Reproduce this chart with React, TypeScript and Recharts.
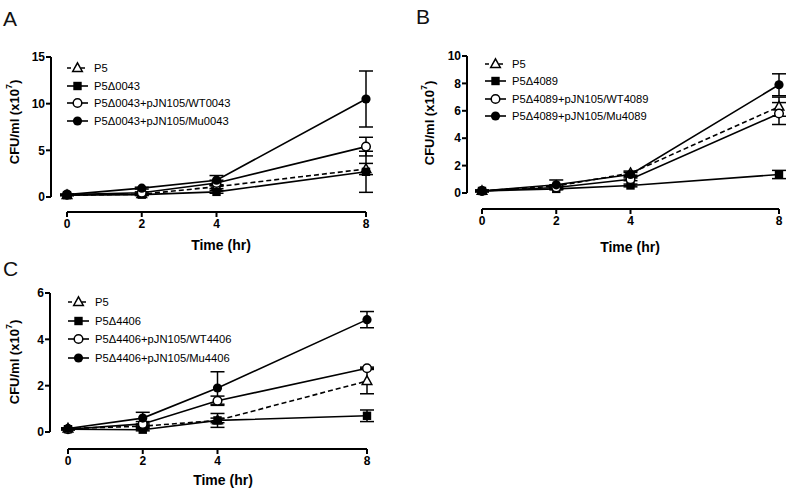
import React from 'react';
import { LineChart, Line, XAxis, YAxis, ErrorBar, ReferenceLine, Legend, Label } from 'recharts';

const FONT = '"Liberation Sans", Arial, sans-serif';

// ---------- data ----------
const times = [0, 2, 4, 8];
const timeTicks = [0, 2, 4, 8];

// Panel A
const namesA = ['P5', 'P5\u03940043', 'P5\u03940043+pJN105/WT0043', 'P5\u03940043+pJN105/Mu0043'];
const aP5 = [0.2, 0.3, 1.1, 3.0];
const aP5Err = [0.05, 0.1, 0.2, 0.6];
const aDel = [0.2, 0.25, 0.55, 2.7];
const aDelErr = [0.05, 0.1, 0.15, 2.2];
const aWT = [0.25, 0.45, 1.5, 5.4];
const aWTErr = [0.05, 0.1, 0.3, 1.0];
const aMu = [0.25, 0.95, 1.8, 10.5];
const aMuErr = [0.05, 0.1, 0.5, 3.0];
const aTicks = [0, 5, 10, 15];

// Panel B
const namesB = ['P5', 'P5\u03944089', 'P5\u03944089+pJN105/WT4089', 'P5\u03944089+pJN105/Mu4089'];
const bP5 = [0.15, 0.5, 1.45, 6.3];
const bP5Err = [0.05, 0.1, 0.15, 0.7];
const bDel = [0.15, 0.3, 0.55, 1.35];
const bDelErr = [0.05, 0.05, 0.1, 0.3];
const bWT = [0.15, 0.4, 1.0, 5.8];
const bWTErr = [0.05, 0.1, 0.1, 0.8];
const bMu = [0.15, 0.6, 1.35, 7.9];
const bMuErr = [0.05, 0.35, 0.15, 0.8];
const bTicks = [0, 2, 4, 6, 8, 10];

// Panel C
const namesC = ['P5', 'P5\u03944406', 'P5\u03944406+pJN105/WT4406', 'P5\u03944406+pJN105/Mu4406'];
const cP5 = [0.15, 0.25, 0.5, 2.2];
const cP5Err = [0.03, 0.05, 0.1, 0.55];
const cDel = [0.12, 0.1, 0.5, 0.7];
const cDelErr = [0.03, 0.05, 0.3, 0.25];
const cWT = [0.12, 0.35, 1.35, 2.75];
const cWTErr = [0.03, 0.1, 0.2, 0.05];
const cMu = [0.15, 0.6, 1.9, 4.85];
const cMuErr = [0.03, 0.25, 0.7, 0.35];
const cTicks = [0, 2, 4, 6];

const kinds = ['tri', 'sq', 'oc', 'fc'];

function buildRows(series: number[][], errs: number[][]) {
  return times.map((t, i) => {
    const row: any = { t };
    series.forEach((s, k) => {
      row['s' + k] = s[i];
      row['e' + k] = errs[k][i];
    });
    return row;
  });
}

function Marker({ cx, cy, kind }: { cx: number; cy: number; kind: string }) {
  if (cx == null || cy == null) return null;
  if (kind === 'tri')
    return (
      <path
        d={`M${cx},${cy - 5.2} L${cx + 4.8},${cy + 3.4} L${cx - 4.8},${cy + 3.4} Z`}
        fill="#fff"
        stroke="#000"
        strokeWidth={1.5}
      />
    );
  if (kind === 'sq') return <rect x={cx - 4.2} y={cy - 4.2} width={8.4} height={8.4} fill="#000" />;
  if (kind === 'oc') return <circle cx={cx} cy={cy} r={4.3} fill="#fff" stroke="#000" strokeWidth={1.5} />;
  return <circle cx={cx} cy={cy} r={4.6} fill="#000" />;
}

type PanelCfg = {
  left: number;
  top: number;
  w: number;
  h: number;
  yAxisX: number;
  x0: number;
  x8: number;
  y0: number;
  yTop: number;
  xAxisY: number;
  ymax: number;
  yTicks: number[];
  legX: number;
  legY: number;
  legSp: number;
  ylabX: number;
  ylabY: number;
  xlabX: number;
  xlabY: number;
  letter: string;
  letterX: number;
  letterY: number;
  names: string[];
  rows: any[];
};

const xAxisH = 36;

function Panel({ c }: { c: PanelCfg }) {
  const xmin = (-8 * (c.x0 - c.yAxisX)) / (c.x8 - c.x0);
  const ymin = (-c.ymax * (c.xAxisY - c.y0)) / (c.y0 - c.yTop);
  const margin = { top: c.yTop, right: c.w - c.x8, left: 0, bottom: c.h - c.xAxisY - xAxisH };
  const renderLegend = () => (
    <div style={{ fontFamily: FONT, fontSize: 11.2, color: '#000' }}>
      {c.names.map((n, i) => (
        <div key={i} style={{ height: c.legSp, display: 'flex', alignItems: 'center', whiteSpace: 'nowrap' }}>
          <svg width={21} height={12} style={{ overflow: 'visible' }}>
            <line
              x1={0}
              y1={6}
              x2={21}
              y2={6}
              stroke="#000"
              strokeWidth={1.6}
              strokeDasharray={i === 0 ? '4 3' : undefined}
            />
            <Marker cx={10.5} cy={6} kind={kinds[i]} />
          </svg>
          <span style={{ marginLeft: 6 }}>{n}</span>
        </div>
      ))}
    </div>
  );
  return (
    <div style={{ position: 'absolute', left: c.left, top: c.top, width: c.w, height: c.h }}>
      <div
        style={{
          position: 'absolute',
          left: c.letterX,
          top: c.letterY,
          fontFamily: FONT,
          fontSize: 21,
          lineHeight: 1,
          color: '#111',
        }}
      >
        {c.letter}
      </div>
      <LineChart width={c.w} height={c.h} data={c.rows} margin={margin}>
        <XAxis
          dataKey="t"
          type="number"
          domain={[xmin, 8]}
          ticks={timeTicks}
          axisLine={false}
          tickLine={{ stroke: '#000', strokeWidth: 2 }}
          tickSize={5}
          tickMargin={2}
          height={xAxisH}
          tick={{ fill: '#000', fontSize: 12, fontWeight: 'bold', fontFamily: FONT }}
        >
          <Label
            content={() => (
              <text
                x={c.xlabX}
                y={c.xlabY}
                textAnchor="middle"
                dominantBaseline="central"
                fontFamily={FONT}
                fontSize={14}
                fontWeight="bold"
                fill="#000"
              >
                Time (hr)
              </text>
            )}
          />
        </XAxis>
        <YAxis
          type="number"
          domain={[ymin, c.ymax]}
          ticks={c.yTicks}
          axisLine={false}
          tickLine={{ stroke: '#000', strokeWidth: 2 }}
          tickSize={5}
          tickMargin={1}
          width={c.yAxisX}
          tick={{ fill: '#000', fontSize: 12, fontWeight: 'bold', fontFamily: FONT }}
        >
          <Label
            content={() => (
              <text
                transform={`translate(${c.ylabX},${c.ylabY}) rotate(-90)`}
                textAnchor="middle"
                dominantBaseline="central"
                fontFamily={FONT}
                fontSize={13}
                fontWeight="bold"
                fill="#000"
              >
                CFU/ml (x10
                <tspan dy={-5} fontSize={9}>
                  7
                </tspan>
                <tspan dy={5}>)</tspan>
              </text>
            )}
          />
        </YAxis>
        <ReferenceLine
          segment={[
            { x: xmin, y: 0 },
            { x: xmin, y: c.ymax },
          ]}
          stroke="#000"
          strokeWidth={2}
          ifOverflow="visible"
        />
        <ReferenceLine
          segment={[
            { x: 0, y: ymin },
            { x: 8, y: ymin },
          ]}
          stroke="#000"
          strokeWidth={2}
          ifOverflow="visible"
        />
        <Legend
          layout="vertical"
          align="center"
          verticalAlign="middle"
          content={renderLegend}
          wrapperStyle={{ left: c.legX, top: c.legY - c.legSp / 2, width: 'auto', height: 'auto' }}
        />
        {[0, 1, 2, 3].map((k) => (
          <Line
            key={k}
            dataKey={'s' + k}
            name={c.names[k]}
            type="linear"
            stroke="#000"
            strokeWidth={1.6}
            strokeDasharray={k === 0 ? '5 3' : undefined}
            isAnimationActive={false}
            dot={(p: any) => <Marker key={p.index} cx={p.cx} cy={p.cy} kind={kinds[k]} />}
            activeDot={false}
          >
            <ErrorBar dataKey={'e' + k} width={7} stroke="#000" strokeWidth={1.5} direction="y" />
          </Line>
        ))}
      </LineChart>
    </div>
  );
}

const panelA: PanelCfg = {
  left: 0, top: 0, w: 390, h: 255,
  yAxisX: 51, x0: 67, x8: 366, y0: 197, yTop: 57, xAxisY: 212,
  ymax: 15, yTicks: aTicks,
  legX: 67, legY: 68, legSp: 17.6,
  ylabX: 14, ylabY: 122, xlabX: 221, xlabY: 245,
  letter: 'A', letterX: 3, letterY: 8,
  names: namesA,
  rows: buildRows([aP5, aDel, aWT, aMu], [aP5Err, aDelErr, aWTErr, aMuErr]),
};

const panelB: PanelCfg = {
  left: 400, top: 0, w: 387, h: 255,
  yAxisX: 67, x0: 82, x8: 379, y0: 193, yTop: 56, xAxisY: 209,
  ymax: 10, yTicks: bTicks,
  legX: 85, legY: 64, legSp: 17.3,
  ylabX: 29, ylabY: 123, xlabX: 230, xlabY: 247,
  letter: 'B', letterX: 16, letterY: 6,
  names: namesB,
  rows: buildRows([bP5, bDel, bWT, bMu], [bP5Err, bDelErr, bWTErr, bMuErr]),
};

const panelC: PanelCfg = {
  left: 0, top: 255, w: 390, h: 235,
  yAxisX: 50, x0: 68, x8: 367, y0: 177, yTop: 38, xAxisY: 194,
  ymax: 6, yTicks: cTicks,
  legX: 68, legY: 47, legSp: 18.6,
  ylabX: 14, ylabY: 107, xlabX: 223, xlabY: 225,
  letter: 'C', letterX: 3, letterY: 3,
  names: namesC,
  rows: buildRows([cP5, cDel, cWT, cMu], [cP5Err, cDelErr, cWTErr, cMuErr]),
};

export default function App() {
  return (
    <div style={{ position: 'absolute', left: 0, top: 0, width: 787, height: 490, background: '#fff', overflow: 'hidden' }}>
      <Panel c={panelA} />
      <Panel c={panelB} />
      <Panel c={panelC} />
    </div>
  );
}
